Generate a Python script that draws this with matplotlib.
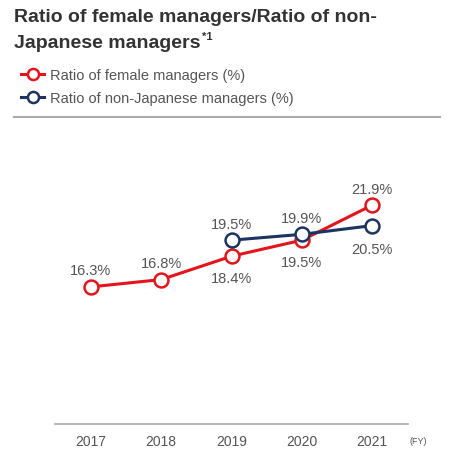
import matplotlib
matplotlib.use("Agg")
import matplotlib.pyplot as plt
from matplotlib.lines import Line2D

years = [2017, 2018, 2019, 2020, 2021]
female = [16.3, 16.8, 18.4, 19.5, 21.9]
nonjp_years = [2019, 2020, 2021]
nonjp = [19.5, 19.9, 20.5]

female_pos = ["above", "above", "below", "below", "above"]
nonjp_pos = ["above", "above", "below"]

RED = "#e3141c"
NAVY = "#1d3461"
TXT = "#555555"

plt.rcParams['font.family'] = ['Liberation Sans', 'DejaVu Sans']

fig = plt.figure(figsize=(4.63, 4.64), dpi=100)
ax = fig.add_axes([55/463, 1 - 425/464, (408 - 55)/463, (425 - 150)/464])

ax.plot(years, female, color=RED, lw=2.2, marker="o", ms=10, mfc="white",
        mec=RED, mew=1.8, zorder=3, label="Ratio of female managers (%)")
ax.plot(nonjp_years, nonjp, color=NAVY, lw=2.2, marker="o", ms=10, mfc="white",
        mec=NAVY, mew=1.8, zorder=4, label="Ratio of non-Japanese managers (%)")

for x, v, p in zip(years, female, female_pos):
    off = 12 if p == "above" else -16
    ax.annotate(f"{v}%", (x, v), xytext=(0, off), textcoords="offset points",
                ha="center", va="center", fontsize=10.5, color=TXT)
for x, v, p in zip(nonjp_years, nonjp, nonjp_pos):
    off = 12 if p == "above" else -17
    ax.annotate(f"{v}%", (x, v), xytext=(0, off), textcoords="offset points",
                ha="center", va="center", fontsize=10.5, color=TXT)

ax.set_xlim(2016.49, 2021.51)
ax.set_ylim(6.9, 25.75)
ax.set_xticks(years)
ax.set_xticklabels([str(y) for y in years], fontsize=10, color=TXT)
ax.tick_params(axis="x", length=0, pad=7)
ax.set_yticks([])
for s in ["left", "right", "top"]:
    ax.spines[s].set_visible(False)
ax.spines["bottom"].set_color("#aaaaaa")
ax.spines["bottom"].set_linewidth(1.2)
ax.patch.set_alpha(0)

fig.text(410/463, 1 - 441/464, "(FY)", fontsize=6.5, color=TXT, va="center")

fig.text(14/463, 1 - 18/464, "Ratio of female managers/Ratio of non-", fontsize=14,
         fontweight="bold", color="#333333", va="center")
t2 = fig.text(14/463, 1 - 44/464, "Japanese managers", fontsize=14,
              fontweight="bold", color="#333333", va="center")
r = fig.canvas.get_renderer()
bb = t2.get_window_extent(renderer=r)
fig.text((bb.x1 + 2) / fig.bbox.width, 1 - 37/464, "*1", fontsize=8,
         fontweight="bold", color="#333333", va="center")

fig.legend(loc="upper left", bbox_to_anchor=(8/463, 1 - 56/464), frameon=False,
           fontsize=10.5, handlelength=1.6, handletextpad=0.4, labelspacing=0.6,
           markerscale=0.8, labelcolor=TXT)

fig.add_artist(Line2D([14/463, 440/463], [1 - 118/464] * 2, color="#aaaaaa", lw=1.5))

fig.savefig("out.png", dpi=100)
